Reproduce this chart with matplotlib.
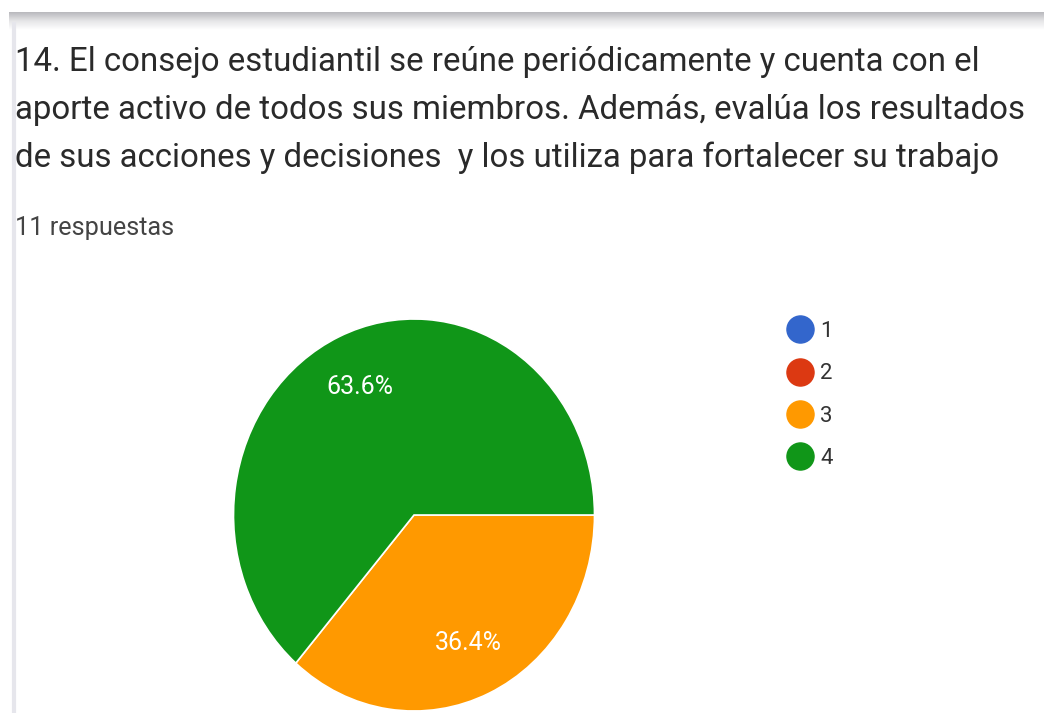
import matplotlib
matplotlib.use("Agg")
import matplotlib.pyplot as plt
import numpy as np
from matplotlib.lines import Line2D

# ---- data ----
categories = ["1", "2", "3", "4"]
values = [0, 0, 4, 7]
colors = ["#3366cc", "#dc3912", "#ff9900", "#109618"]
title_lines = [
    "14. El consejo estudiantil se reúne periódicamente y cuenta con el",
    "aporte activo de todos sus miembros. Además, evalúa los resultados",
    "de sus acciones y decisiones  y los utiliza para fortalecer su trabajo",
]
subtitle = "11 respuestas"

W, H = 1044, 713
plt.rcParams['font.family'] = ['Roboto', 'DejaVu Sans']
fig = plt.figure(figsize=(W / 100, H / 100), dpi=100)

# background / decoration axes in pixel coordinates
bg = fig.add_axes([0, 0, 1, 1])
bg.set_xlim(0, W)
bg.set_ylim(H, 0)
bg.axis('off')
# top shadow gradient
grad = np.linspace(0, 1, 50).reshape(-1, 1)
cmap = matplotlib.colors.LinearSegmentedColormap.from_list("sh", ["#b9b9bd", "#e6e6e8", "#ffffff"])
bg.imshow(grad, extent=[9, W, 30, 12], cmap=cmap, aspect='auto', zorder=0)
# left border line
bg.plot([14, 14], [22, H], color="#e6e6ec", lw=3, solid_capstyle='butt', zorder=1)

# title
baselines = [71, 119, 167]
for line, yb in zip(title_lines, baselines):
    bg.text(15, yb, line, fontsize=23.8, color="#2a2a2a", va='baseline', ha='left')
bg.text(15, 235, subtitle, fontsize=18.2, color="#444444", va='baseline', ha='left')

# pie axes
cx, cy, rx, ry = 414, 515, 180.5, 196
ax = fig.add_axes([(cx - rx) / W, (H - cy - ry) / H, 2 * rx / W, 2 * ry / H])

def fmt(p):
    return f"{p:.1f}%" if p > 0 else ""

wedges, texts, autotexts = ax.pie(values, colors=colors, startangle=0, counterclock=False,
                                  autopct=fmt, pctdistance=0.72,
                                  wedgeprops=dict(edgecolor='white', linewidth=1.2),
                                  textprops=dict(color='white', fontsize=18))
ax.set_aspect('auto')
ax.set_xlim(-1, 1)
ax.set_ylim(-1, 1)

# legend
handles = [Line2D([0], [0], marker='o', color='none', markerfacecolor=c, markeredgecolor=c,
                  markersize=19.5) for c in colors]
leg = fig.legend(handles, categories, loc='upper left',
                 bbox_to_anchor=(769 / W, 1 - 301 / H), frameon=False,
                 fontsize=16, labelspacing=0.96, handlelength=1.0, handletextpad=0.4,
                 borderpad=0.4)
for t in leg.get_texts():
    t.set_color("#333333")

fig.savefig("out.png", dpi=100)
